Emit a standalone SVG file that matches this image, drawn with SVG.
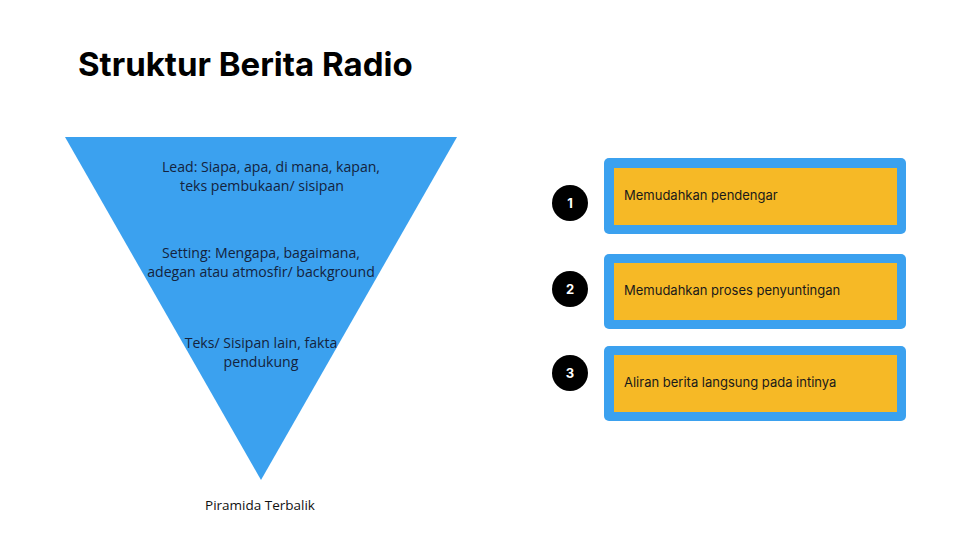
<svg xmlns="http://www.w3.org/2000/svg" width="960" height="540" viewBox="0 0 960 540">
<style>
.title{font-family:Inter,"Liberation Sans",sans-serif;font-weight:700;font-size:33px;fill:#000}
.tri{font-family:"Open Sans","Liberation Sans",sans-serif;font-size:14.1px;fill:#14233d;text-anchor:middle}
.box{font-family:Inter,"Liberation Sans",sans-serif;font-size:13px;fill:#1a1a1a}
.num{font-family:Inter,"Liberation Sans",sans-serif;font-size:13px;font-weight:700;fill:#fff;text-anchor:middle}
.outer{fill:#3ba1ef}
.inner{fill:#f6b926}
</style>
<rect width="960" height="540" fill="#fff"/>
<text class="title" x="78" y="76">Struktur Berita Radio</text>
<g id="pyramid">
<polygon points="65,137 457,137 261,480" fill="#3ba1ef"/>
<text class="tri" x="271" y="172">Lead: Siapa, apa, di mana, kapan,</text>
<text class="tri" x="262" y="191">teks pembukaan/ sisipan</text>
<text class="tri" x="261" y="258">Setting: Mengapa, bagaimana,</text>
<text class="tri" x="261" y="277">adegan atau atmosfir/ background</text>
<text class="tri" x="261" y="348">Teks/ Sisipan lain, fakta</text>
<text class="tri" x="261" y="367">pendukung</text>
</g>
<text id="caption" class="tri" x="260" y="510" style="fill:#111;font-size:13.5px">Piramida Terbalik</text>
<g id="item1">
<circle cx="570" cy="203" r="18" fill="#000"/>
<text class="num" x="570" y="208">1</text>
<rect class="outer" x="604" y="158" width="302" height="76" rx="5"/>
<rect class="inner" x="614" y="168" width="283" height="57"/>
<text class="box" x="624" y="200">Memudahkan pendengar</text>
</g>
<g id="item2">
<circle cx="570" cy="289" r="18" fill="#000"/>
<text class="num" x="570" y="294">2</text>
<rect class="outer" x="604" y="254" width="302" height="75" rx="5"/>
<rect class="inner" x="614" y="263" width="283" height="57"/>
<text class="box" x="624" y="295">Memudahkan proses penyuntingan</text>
</g>
<g id="item3">
<circle cx="570" cy="373" r="18" fill="#000"/>
<text class="num" x="570" y="378">3</text>
<rect class="outer" x="604" y="346" width="302" height="75" rx="5"/>
<rect class="inner" x="614" y="355" width="283" height="57"/>
<text class="box" x="624" y="387">Aliran berita langsung pada intinya</text>
</g>
<g id="connectors"></g>
</svg>
